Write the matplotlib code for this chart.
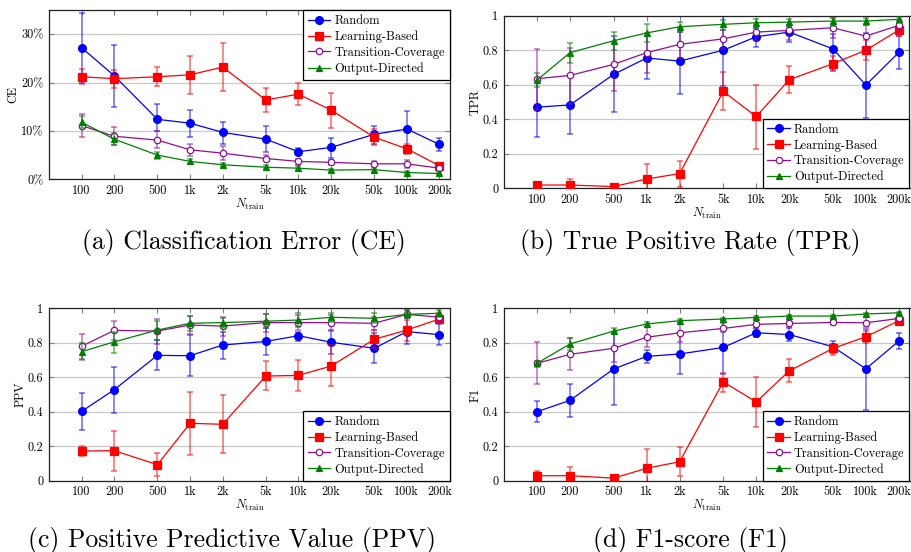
import matplotlib
matplotlib.use("Agg")
import matplotlib.pyplot as plt
from matplotlib.lines import Line2D
from matplotlib.colors import to_rgba

plt.rcParams['font.family'] = ['cmr10', 'DejaVu Serif']
plt.rcParams['mathtext.fontset'] = 'cm'
plt.rcParams['axes.unicode_minus'] = False

# ---------------- data ----------------
n_train = [100, 200, 500, 1000, 2000, 5000, 10000, 20000, 50000, 100000, 200000]
n_labels = ['100', '200', '500', '1k', '2k', '5k', '10k', '20k', '50k', '100k', '200k']
methods = ['Random', 'Learning-Based', 'Transition-Coverage', 'Output-Directed']

# (a) Classification Error, in percent
ce_random = [27.2, 21.4, 12.4, 11.6, 9.7, 8.3, 5.7, 6.6, 9.3, 10.4, 7.2]
ce_random_lo = [20.0, 15.0, 9.9, 8.8, 7.3, 5.7, 5.0, 4.4, 7.4, 6.5, 5.8]
ce_random_hi = [34.3, 27.8, 15.5, 14.3, 11.9, 11.1, 6.4, 8.5, 11.1, 14.2, 8.6]
ce_learn = [21.2, 20.8, 21.2, 21.6, 23.2, 16.4, 17.6, 14.3, 8.7, 6.3, 2.8]
ce_learn_lo = [19.7, 18.8, 19.2, 17.6, 18.2, 14.0, 15.4, 10.6, 7.1, 5.2, 2.3]
ce_learn_hi = [22.8, 22.5, 23.3, 25.4, 28.1, 18.8, 19.9, 17.9, 10.3, 7.4, 3.3]
ce_trans = [11.1, 8.9, 8.1, 6.1, 5.4, 4.3, 3.7, 3.5, 3.2, 3.2, 2.3]
ce_trans_lo = [8.8, 7.1, 6.4, 4.9, 4.0, 3.7, 3.0, 3.0, 2.8, 2.4, 1.9]
ce_trans_hi = [13.4, 10.9, 9.9, 7.4, 6.8, 5.0, 4.3, 4.0, 3.7, 3.9, 2.6]
ce_output = [11.8, 8.3, 5.0, 3.7, 3.0, 2.5, 2.3, 1.9, 2.0, 1.4, 1.2]
ce_output_lo = [10.6, 7.1, 4.3, 3.2, 2.6, 2.1, 1.9, 1.6, 1.6, 1.0, 0.9]
ce_output_hi = [13.0, 9.5, 5.7, 4.1, 3.3, 2.9, 2.7, 2.2, 2.4, 1.8, 1.5]

# (b) True Positive Rate
tpr_random = [0.47, 0.483, 0.66, 0.755, 0.737, 0.80, 0.878, 0.905, 0.808, 0.598, 0.788]
tpr_random_lo = [0.295, 0.313, 0.44, 0.633, 0.546, 0.59, 0.817, 0.85, 0.678, 0.405, 0.69]
tpr_random_hi = [0.64, 0.65, 0.88, 0.88, 0.93, 1.0, 0.93, 0.94, 0.894, 0.90, 0.885]
tpr_learn = [0.019, 0.019, 0.01, 0.054, 0.085, 0.561, 0.416, 0.629, 0.722, 0.80, 0.917]
tpr_learn_lo = [0.0, -0.016, 0.0, -0.033, 0.01, 0.452, 0.23, 0.555, 0.683, 0.746, 0.885]
tpr_learn_hi = [0.039, 0.054, 0.02, 0.141, 0.16, 0.672, 0.60, 0.707, 0.765, 0.86, 0.946]
tpr_trans = [0.635, 0.654, 0.718, 0.786, 0.834, 0.866, 0.905, 0.915, 0.93, 0.882, 0.944]
tpr_trans_lo = [0.454, 0.49, 0.566, 0.67, 0.753, 0.805, 0.86, 0.86, 0.869, 0.80, 0.907]
tpr_trans_hi = [0.805, 0.81, 0.85, 0.90, 0.907, 0.917, 0.946, 0.946, 0.985, 0.946, 0.975]
tpr_output = [0.627, 0.786, 0.855, 0.90, 0.936, 0.95, 0.959, 0.963, 0.969, 0.969, 0.979]
tpr_output_lo = [0.585, 0.724, 0.80, 0.85, 0.907, 0.92, 0.93, 0.936, 0.94, 0.945, 0.96]
tpr_output_hi = [0.67, 0.844, 0.907, 0.95, 0.965, 0.975, 0.98, 0.98, 0.985, 0.985, 0.995]

# (c) Positive Predictive Value
ppv_random = [0.402, 0.528, 0.727, 0.725, 0.787, 0.808, 0.841, 0.803, 0.768, 0.865, 0.847]
ppv_random_lo = [0.294, 0.393, 0.64, 0.605, 0.708, 0.727, 0.812, 0.733, 0.681, 0.793, 0.785]
ppv_random_hi = [0.509, 0.66, 0.816, 0.845, 0.86, 0.884, 0.865, 0.874, 0.855, 0.95, 0.909]
ppv_learn = [0.172, 0.174, 0.093, 0.333, 0.327, 0.607, 0.611, 0.665, 0.82, 0.874, 0.938]
ppv_learn_lo = [0.143, 0.056, 0.025, 0.149, 0.159, 0.526, 0.52, 0.549, 0.768, 0.812, 0.913]
ppv_learn_hi = [0.2, 0.29, 0.159, 0.516, 0.495, 0.694, 0.702, 0.789, 0.874, 0.932, 0.961]
ppv_trans = [0.78, 0.872, 0.868, 0.903, 0.897, 0.917, 0.917, 0.917, 0.913, 0.965, 0.948]
ppv_trans_lo = [0.704, 0.816, 0.791, 0.849, 0.84, 0.865, 0.874, 0.87, 0.874, 0.942, 0.923]
ppv_trans_hi = [0.853, 0.928, 0.94, 0.955, 0.95, 0.967, 0.961, 0.961, 0.952, 0.99, 0.971]
ppv_output = [0.749, 0.805, 0.874, 0.913, 0.917, 0.925, 0.932, 0.948, 0.942, 0.965, 0.971]
ppv_output_lo = [0.7, 0.743, 0.816, 0.868, 0.884, 0.884, 0.894, 0.923, 0.913, 0.942, 0.952]
ppv_output_hi = [0.797, 0.865, 0.928, 0.957, 0.946, 0.967, 0.971, 0.971, 0.971, 0.99, 0.99]

# (d) F1-score
f1_random = [0.40, 0.466, 0.648, 0.721, 0.735, 0.773, 0.858, 0.848, 0.777, 0.649, 0.81]
f1_random_lo = [0.338, 0.369, 0.441, 0.683, 0.617, 0.62, 0.832, 0.81, 0.739, 0.41, 0.766]
f1_random_hi = [0.46, 0.563, 0.865, 0.76, 0.855, 0.93, 0.884, 0.884, 0.812, 0.88, 0.855]
f1_learn = [0.029, 0.029, 0.015, 0.072, 0.11, 0.573, 0.457, 0.637, 0.767, 0.835, 0.928]
f1_learn_lo = [0.004, -0.02, 0.0, -0.04, 0.027, 0.516, 0.309, 0.571, 0.729, 0.80, 0.915]
f1_learn_hi = [0.054, 0.077, 0.027, 0.182, 0.197, 0.627, 0.603, 0.704, 0.793, 0.87, 0.94]
f1_trans = [0.681, 0.733, 0.768, 0.832, 0.858, 0.883, 0.907, 0.912, 0.918, 0.916, 0.941]
f1_trans_lo = [0.559, 0.642, 0.687, 0.774, 0.807, 0.865, 0.884, 0.894, 0.903, 0.89, 0.932]
f1_trans_hi = [0.803, 0.826, 0.865, 0.894, 0.913, 0.913, 0.932, 0.932, 0.932, 0.952, 0.961]
f1_output = [0.681, 0.793, 0.868, 0.909, 0.928, 0.938, 0.947, 0.955, 0.955, 0.967, 0.974]
f1_output_lo = [0.662, 0.758, 0.849, 0.894, 0.919, 0.93, 0.94, 0.948, 0.948, 0.96, 0.968]
f1_output_hi = [0.696, 0.826, 0.888, 0.923, 0.936, 0.946, 0.954, 0.962, 0.962, 0.974, 0.98]

ce_ticks = [0, 10, 20, 30]
ce_ticklabels = ['0%', '10%', '20%', '30%']
rate_ticks = [0, 0.2, 0.4, 0.6, 0.8, 1.0]
rate_ticklabels = ['0', '0.2', '0.4', '0.6', '0.8', '1']

captions = ['(a) Classification Error (CE)', '(b) True Positive Rate (TPR)',
            '(c) Positive Predictive Value (PPV)', '(d) F1-score (F1)']

# ---------------- styles ----------------
colors = ['#0000ff', '#ff0000', '#8f0f8f', '#007f00']
markers = ['o', 's', 'o', '^']
msizes = [5.6, 5.6, 4.6, 4.8]
mfaces = ['#0000ff', '#ff0000', 'white', '#007f00']

W, H = 912, 552
fig = plt.figure(figsize=(W / 100, H / 100), dpi=100)


def ax_rect(l, t, r, b):
    return [l / W, 1 - b / H, (r - l) / W, (b - t) / H]


rects = [ax_rect(49, 10, 450, 179.3), ax_rect(504, 15.7, 909.5, 188.3),
         ax_rect(49, 308.3, 450, 480.7), ax_rect(504, 308.3, 909.5, 480.7)]

panels = [
    ([ce_random, ce_learn, ce_trans, ce_output],
     [ce_random_lo, ce_learn_lo, ce_trans_lo, ce_output_lo],
     [ce_random_hi, ce_learn_hi, ce_trans_hi, ce_output_hi], 'CE', (0, 35), ce_ticks, ce_ticklabels, 'upper right'),
    ([tpr_random, tpr_learn, tpr_trans, tpr_output],
     [tpr_random_lo, tpr_learn_lo, tpr_trans_lo, tpr_output_lo],
     [tpr_random_hi, tpr_learn_hi, tpr_trans_hi, tpr_output_hi], 'TPR', (0, 1), rate_ticks, rate_ticklabels, 'lower right'),
    ([ppv_random, ppv_learn, ppv_trans, ppv_output],
     [ppv_random_lo, ppv_learn_lo, ppv_trans_lo, ppv_output_lo],
     [ppv_random_hi, ppv_learn_hi, ppv_trans_hi, ppv_output_hi], 'PPV', (0, 1), rate_ticks, rate_ticklabels, 'lower right'),
    ([f1_random, f1_learn, f1_trans, f1_output],
     [f1_random_lo, f1_learn_lo, f1_trans_lo, f1_output_lo],
     [f1_random_hi, f1_learn_hi, f1_trans_hi, f1_output_hi], 'F1', (0, 1), rate_ticks, rate_ticklabels, 'lower right'),
]

tick_fs = 8.8
leg_fs = 8.9
for i, (rect, (ys, los, his, ylab, ylim, yt, ytl, lloc)) in enumerate(zip(rects, panels)):
    ax = fig.add_axes(rect)
    for k in range(4):
        y = ys[k]
        lo = los[k]
        hi = his[k]
        err = [[a - b for a, b in zip(y, lo)], [b - a for a, b in zip(y, hi)]]
        ax.errorbar(n_train, y, yerr=err, fmt='none', ecolor=to_rgba(colors[k], 0.55),
                    elinewidth=1.2, capsize=2.0, capthick=1.2, zorder=2 + k)
        ax.plot(n_train, y, color=colors[k], lw=0.9, marker=markers[k], ms=msizes[k],
                mfc=mfaces[k], mec=colors[k], mew=0.9, zorder=3 + k)
    ax.set_xscale('log')
    ax.set_xlim(50, 250000)
    ax.set_ylim(*ylim)
    ax.set_xticks(n_train)
    ax.set_xticklabels(n_labels, fontsize=tick_fs)
    ax.minorticks_off()
    ax.set_yticks(yt)
    ax.set_yticklabels(ytl, fontsize=tick_fs)
    ax.tick_params(direction='in', length=3.5, width=0.8, color='#808080',
                   top=True, right=True, pad=4)
    ax.tick_params(axis='x', pad=4)
    ax.grid(axis='y', color='#c8c8c8', lw=0.9)
    ax.set_axisbelow(True)
    for s in ax.spines.values():
        s.set_linewidth(0.9)
        s.set_color('#222222')
    ax.set_ylabel(ylab, fontsize=tick_fs, labelpad=1)
    ax.set_xlabel(r'$N_{\mathrm{train}}$', fontsize=tick_fs, labelpad=0)

    handles = [Line2D([], [], color=colors[k], lw=0.9, marker=markers[k], ms=msizes[k],
                      mfc=mfaces[k], mec=colors[k], mew=0.9) for k in range(4)]
    leg = ax.legend(handles, methods, loc=lloc,
                    borderaxespad=0, fancybox=False, framealpha=1, edgecolor='black',
                    fontsize=leg_fs, handlelength=1.8, handletextpad=0.35,
                    borderpad=0.4, labelspacing=0.28)
    leg.get_frame().set_linewidth(0.9)
    leg.set_zorder(10)

# captions
cap_fs = 18.5
fig.text(244 / W, 1 - 242 / H, captions[0], ha='center', va='center', fontsize=cap_fs)
fig.text(690 / W, 1 - 242 / H, captions[1], ha='center', va='center', fontsize=cap_fs)
fig.text(232 / W, 1 - 540 / H, captions[2], ha='center', va='center', fontsize=cap_fs)
fig.text(690 / W, 1 - 540 / H, captions[3], ha='center', va='center', fontsize=cap_fs)

fig.savefig('out.png', dpi=100)
